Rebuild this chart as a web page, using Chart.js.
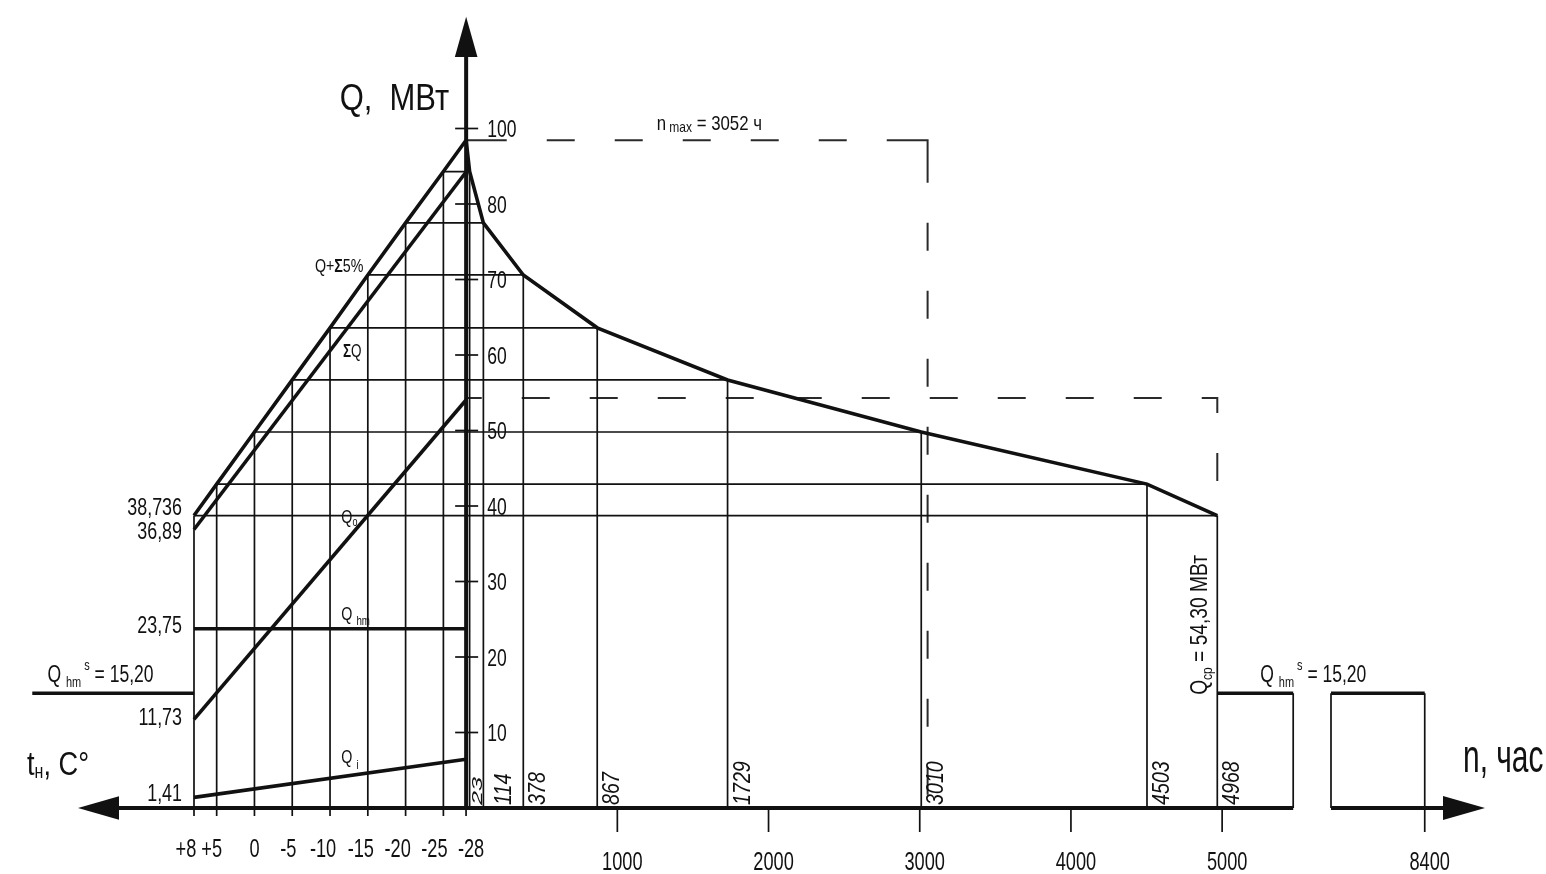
<!DOCTYPE html>
<html lang="ru">
<head>
<meta charset="utf-8">
<title>График продолжительности тепловой нагрузки</title>
<script src="https://cdn.jsdelivr.net/npm/chart.js@4.4.1/dist/chart.umd.min.js"></script>
<style>
html, body { margin: 0; padding: 0; background: #fff; }
#wrap { width: 1546px; height: 874px; position: relative; }
canvas { display: block; }
</style>
</head>
<body>
<div id="wrap"><canvas id="chart" width="1546" height="874"></canvas></div>
<script>
// ---- data -------------------------------------------------------------
// outdoor temperatures on the left half, °C
const tempTicks = [8, 5, 0, -5, -10, -15, -20, -25, -28];
const tempTickLabels = ['+8', '+5', '0', '-5', '-10', '-15', '-20', '-25', '-28'];
// total load incl. 5 % losses at each of those temperatures, MW
const reserveLoad = [38.736, 42.9, 49.8, 56.7, 63.6, 70.6, 77.5, 84.3, 88.45];
// hours per season with outdoor temperature at or below each value
const durationHours = [4968, 4503, 3010, 1729, 867, 378, 114, 23, 0];

// component loads at +8 °C and -28 °C, MW
const endTemps = [8, -28];
const sumLoad = [36.89, 84.24];
const heatingLoad = [11.73, 54.04];
const hotWaterLoad = [23.75, 23.75];
const ventLoad = [1.41, 6.45];

// summer hot water
const summerHotWater = 15.20;
const summerTemps = [29.4, 8];
const summerHours = [4968, 8400];

const nMax = 3052;          // hours of peak-load use
const averageLoad = 54.30;  // mean load over the season, MW

const qTicks = [10, 20, 30, 40, 50, 60, 70, 80, 90];
const qTickLabels = ['10', '20', '30', '40', '50', '60', '70', '80', '100'];
const hourTicks = [1000, 2000, 3000, 4000, 5000, 8400];

// ---- scale geometry --------------------------------------------------
const AXIS_BREAK = { from: 5470, to: 7780, gap: 250 };  // hours hidden by the axis break
const HOURS_RANGE = [-3083, 9202];
const TEMP_RANGE = [-170.9, 33.67];
const Q_RANGE = [0, 107.02];

const INK = '#111';
const DASH_INK = '#2a2a2a';
const FONT = '"Liberation Sans", Arial, sans-serif';

// hours axis with a gap between the end of the heating season and the year end
class BrokenLinearScale extends Chart.LinearScale {
  static id = 'brokenLinear';
  static defaults = {};
  squash(v) {
    const b = AXIS_BREAK;
    if (v <= b.from) return v;
    if (v >= b.to) return v - (b.to - b.from) + b.gap;
    return b.from + (v - b.from) / (b.to - b.from) * b.gap;
  }
  configure() {
    super.configure();
    this._startValue = this.squash(this.min);
    this._endValue = this.squash(this.max);
    this._valueRange = this._endValue - this._startValue;
  }
  getPixelForValue(v) {
    if (v === null || v === undefined || isNaN(v)) return NaN;
    return this.getPixelForDecimal((this.squash(v) - this._startValue) / this._valueRange);
  }
  getValueForPixel(p) {
    const s = this._startValue + this.getDecimalForPixel(p) * this._valueRange;
    const b = AXIS_BREAK;
    if (s <= b.from) return s;
    if (s >= b.from + b.gap) return s + (b.to - b.from) - b.gap;
    return b.from + (s - b.from) / b.gap * (b.to - b.from);
  }
}
Chart.register(BrokenLinearScale);

// ---- datasets ---------------------------------------------------------
const toPoints = (xs, ys) => xs.map((x, i) => ({ x, y: ys[i] }));
const segments = list => list.flatMap(([a, b]) => [
  { x: a[0], y: a[1] }, { x: b[0], y: b[1] }, { x: b[0], y: null }
]);
function series(label, axis, data, style) {
  return Object.assign({
    label, data, xAxisID: axis, yAxisID: 'y',
    borderColor: INK, pointRadius: 0, pointHoverRadius: 0, fill: false,
    tension: 0, clip: false, borderCapStyle: 'butt', borderJoinStyle: 'miter'
  }, style);
}
const THICK = { borderWidth: 3.6 };
const THIN = { borderWidth: 1.7 };

const lastT = tempTicks[tempTicks.length - 1];
const peakLoad = reserveLoad[reserveLoad.length - 1];

const tempGrid = segments([
  ...tempTicks.slice(0, -1).map((t, i) => [[t, 0], [t, reserveLoad[i]]]),
  ...tempTicks.slice(0, -1).map((t, i) => [[t, reserveLoad[i]], [lastT, reserveLoad[i]]])
]);
const hoursGrid = segments([
  ...durationHours.slice(0, -1).map((n, i) => [[n, 0], [n, reserveLoad[i]]]),
  ...durationHours.slice(0, -1).map((n, i) => [[0, reserveLoad[i]], [n, reserveLoad[i]]])
]);
const summerTop = segments([
  [[summerHours[0], summerHotWater], [AXIS_BREAK.from, summerHotWater]],
  [[AXIS_BREAK.to, summerHotWater], [summerHours[1], summerHotWater]]
]);
const summerSides = segments([
  [[AXIS_BREAK.from, 0], [AXIS_BREAK.from, summerHotWater]],
  [[AXIS_BREAK.to, 0], [AXIS_BREAK.to, summerHotWater]],
  [[summerHours[1], 0], [summerHours[1], summerHotWater]]
]);

const datasets = [
  series('Q+Σ5%', 'xt', toPoints(tempTicks, reserveLoad), THICK),
  series('ΣQ', 'xt', toPoints(endTemps, sumLoad), THICK),
  series('Qo', 'xt', toPoints(endTemps, heatingLoad), THICK),
  series('Qhm', 'xt', toPoints(endTemps, hotWaterLoad), THICK),
  series('Qi', 'xt', toPoints(endTemps, ventLoad), THICK),
  series('Qhm summer', 'xt', toPoints(summerTemps, [summerHotWater, summerHotWater]), THICK),
  series('grid t', 'xt', tempGrid, THIN),
  series('duration', 'x', toPoints(durationHours, reserveLoad), THICK),
  series('grid n', 'x', hoursGrid, THIN),
  series('summer top', 'x', summerTop, THICK),
  series('summer sides', 'x', summerSides, THIN),
  series('n max', 'x', toPoints([0, nMax, nMax], [peakLoad, peakLoad, 0]), {
    borderWidth: 2, borderColor: DASH_INK,
    borderDash: [40.6, 40, 28, 40, 28, 40, 28, 40, 28, 40, 28, 40, 83.3, 40,
                 28, 40, 28, 40, 28, 40, 28, 40, 28, 40, 28, 40, 28, 40, 28, 40, 28, 40]
  }),
  series('Q avg', 'x', toPoints([0, summerHours[0], summerHours[0]], [averageLoad, averageLoad, reserveLoad[0]]), {
    borderWidth: 2, borderColor: DASH_INK,
    borderDash: [15.6, 40, 28, 40, 28, 40, 28, 40, 28, 40, 28, 40, 28, 40, 28, 40,
                 28, 40, 28, 40, 28, 40, 30.6, 40, 28, 40]
  })
];

// ---- drawing helpers -------------------------------------------------
function line(ctx, x1, y1, x2, y2) {
  ctx.beginPath(); ctx.moveTo(x1, y1); ctx.lineTo(x2, y2); ctx.stroke();
}
function arrow(ctx, tx, ty, bx, by, half) {
  const dx = tx - bx, dy = ty - by, len = Math.hypot(dx, dy);
  const nx = -dy / len * half, ny = dx / len * half;
  ctx.beginPath();
  ctx.moveTo(tx, ty); ctx.lineTo(bx + nx, by + ny); ctx.lineTo(bx - nx, by - ny);
  ctx.closePath(); ctx.fill();
}
// text runs with sub/superscripts, narrowed like drafting lettering
function runs(ctx, parts, x, y, o = {}) {
  const sq = o.squeeze ?? 0.73, vs = o.vscale ?? 1;
  ctx.save();
  ctx.translate(x, y);
  if (o.rotate) ctx.rotate(o.rotate);
  ctx.scale(sq, vs);
  ctx.fillStyle = INK;
  ctx.textBaseline = 'alphabetic';
  ctx.textAlign = 'left';
  const fontOf = p => `${(p.italic ?? o.italic) ? 'italic ' : ''}${p.bold ? 'bold ' : ''}${p.size ?? o.size ?? 24}px ${FONT}`;
  let total = 0;
  const widths = parts.map(p => { ctx.font = fontOf(p); const w = ctx.measureText(p.t).width; total += w; return w; });
  let cx = o.align === 'right' ? -total : o.align === 'center' ? -total / 2 : 0;
  parts.forEach((p, i) => { ctx.font = fontOf(p); ctx.fillText(p.t, cx, p.dy || 0); cx += widths[i]; });
  ctx.restore();
}
const text = (ctx, s, x, y, o) => runs(ctx, [{ t: s }], x, y, o);
const comma = v => String(v).replace('.', ',');
const comma2 = v => v.toFixed(2).replace('.', ',');

const tempLabelNudge = { '+8': -8, '+5': -5, '0': 0, '-5': -4, '-10': -7, '-15': -7, '-20': -8, '-25': -9, '-28': 5 };
const durationLabelStyle = { 23: { off: 12.5, squeeze: 1.05, vscale: 0.6 }, 114: { off: 28 } };

const drawingFrame = {
  id: 'drawingFrame',
  afterDatasetsDraw(chart) {
    const { ctx, chartArea: area, scales } = chart;
    const X = v => scales.x.getPixelForValue(v);
    const T = v => scales.xt.getPixelForValue(v);
    const Y = v => scales.y.getPixelForValue(v);
    const y0 = Y(0), ax = X(0);

    ctx.save();
    ctx.strokeStyle = INK; ctx.fillStyle = INK; ctx.lineCap = 'butt';

    // axes with arrows
    ctx.lineWidth = 4;
    line(ctx, area.left + 118, y0, X(AXIS_BREAK.from), y0);
    line(ctx, X(AXIS_BREAK.to), y0, area.left + 1444, y0);
    line(ctx, ax, y0 + 2, ax, area.top + 56);
    arrow(ctx, area.left + 78, y0, area.left + 119, y0, 11.7);
    arrow(ctx, area.left + 1485, y0, area.left + 1443, y0, 12);
    arrow(ctx, ax, area.top + 16.7, ax, area.top + 57, 11.3);

    // tick marks
    ctx.lineWidth = 1.7;
    qTicks.forEach(v => line(ctx, ax - 11, Y(v), ax + 12, Y(v)));
    tempTicks.forEach(t => line(ctx, T(t), y0, T(t), y0 + 8));
    hourTicks.forEach(h => line(ctx, X(h), y0, X(h), y0 + 24));
    ctx.restore();

    // tick labels
    qTicks.forEach((v, i) => text(ctx, qTickLabels[i], ax + 21, Y(v) + 8.5, { size: 24 }));
    tempTicks.forEach((t, i) => text(ctx, tempTickLabels[i], T(t) + tempLabelNudge[tempTickLabels[i]], y0 + 49, { size: 26, align: 'center', squeeze: 0.7 }));
    hourTicks.forEach(h => text(ctx, String(h), X(h) + 5, y0 + 62, { size: 26, align: 'center', squeeze: 0.7 }));

    // hour counts along the duration curve
    durationHours.slice(0, -1).forEach(n => {
      const st = durationLabelStyle[n] || {};
      text(ctx, String(n), X(n) + (st.off ?? 22), y0 - 3, {
        size: 24, italic: true, rotate: -Math.PI / 2, squeeze: st.squeeze ?? 0.82, vscale: st.vscale ?? 1
      });
    });

    // axis titles
    runs(ctx, [{ t: 'Q,  МВт' }], ax - 17, area.top + 110, { size: 36, align: 'right', squeeze: 0.86 });
    runs(ctx, [{ t: 't', size: 34 }, { t: 'н', size: 20, dy: 3 }, { t: ', C°', size: 34 }], area.left + 27, y0 - 33, { squeeze: 0.8 });
    runs(ctx, [{ t: 'n, час' }], area.left + 1463, y0 - 36.5, { size: 46, squeeze: 0.65 });

    // curve names
    const cx = T(-11.5);
    runs(ctx, [{ t: 'Q+' }, { t: 'Σ', bold: true }, { t: '5%' }], T(-8), Y(71.03), { size: 19, squeeze: 0.75 });
    runs(ctx, [{ t: 'Σ', bold: true }, { t: 'Q' }], T(-11.7), Y(59.7), { size: 18, squeeze: 0.75 });
    runs(ctx, [{ t: 'Q', size: 19 }, { t: 'o', size: 12, dy: 3 }], cx, Y(37.8), { squeeze: 0.75 });
    runs(ctx, [{ t: 'Q ', size: 19 }, { t: 'hm', size: 13, dy: 5 }], cx, Y(24.9), { squeeze: 0.75 });
    runs(ctx, [{ t: 'Q ', size: 19 }, { t: 'i', size: 13, dy: 6 }], cx, Y(6.0), { squeeze: 0.75 });

    // load values at +8 °C
    const lx = T(endTemps[0]) - 12;
    [[reserveLoad[0], -1], [sumLoad[0], 10], [hotWaterLoad[0], 4.5], [heatingLoad[0], 5.5], [ventLoad[0], 4]]
      .forEach(([v, dy]) => text(ctx, comma(v), lx, Y(v) + dy, { size: 24.5, align: 'right' }));

    // summer hot water, both sides
    const hmS = [{ t: 'Q ', size: 24 }, { t: 'hm', size: 15, dy: 5 }, { t: ' s', size: 15, dy: -12 }, { t: ' = ' + comma2(summerHotWater), size: 24 }];
    runs(ctx, hmS, T(endTemps[0]) - 40.5, Y(summerHotWater) - 11, { align: 'right' });
    runs(ctx, hmS, X(summerHours[0]) + 43, Y(summerHotWater) - 11, {});

    // peak hours and mean load
    runs(ctx, [{ t: 'n', size: 21 }, { t: ' max', size: 15, dy: 1.5 }, { t: ' = ' + nMax + ' ч', size: 21 }],
      X(1260), Y(peakLoad) - 10, { squeeze: 0.8 });
    runs(ctx, [{ t: 'Q', size: 24 }, { t: 'ср', size: 15, dy: 5 }, { t: ' = ' + comma2(averageLoad) + ' МВт', size: 24 }],
      X(summerHours[0]) - 10.5, Y(summerHotWater) + 1.6, { rotate: -Math.PI / 2, squeeze: 0.8 });
  }
};

Chart.defaults.font.family = FONT;

new Chart(document.getElementById('chart'), {
  type: 'line',
  data: { datasets },
  options: {
    responsive: false,
    animation: false,
    devicePixelRatio: 1,
    events: [],
    layout: { padding: { left: 0, right: 0, top: 0, bottom: 66 } },
    plugins: { legend: { display: false }, tooltip: { enabled: false } },
    scales: {
      x: { type: 'brokenLinear', axis: 'x', min: HOURS_RANGE[0], max: HOURS_RANGE[1], bounds: 'data', display: false },
      xt: { type: 'linear', axis: 'x', reverse: true, min: TEMP_RANGE[0], max: TEMP_RANGE[1], bounds: 'data', display: false },
      y: { type: 'linear', min: Q_RANGE[0], max: Q_RANGE[1], bounds: 'data', display: false }
    }
  },
  plugins: [drawingFrame]
});
</script>
</body>
</html>
